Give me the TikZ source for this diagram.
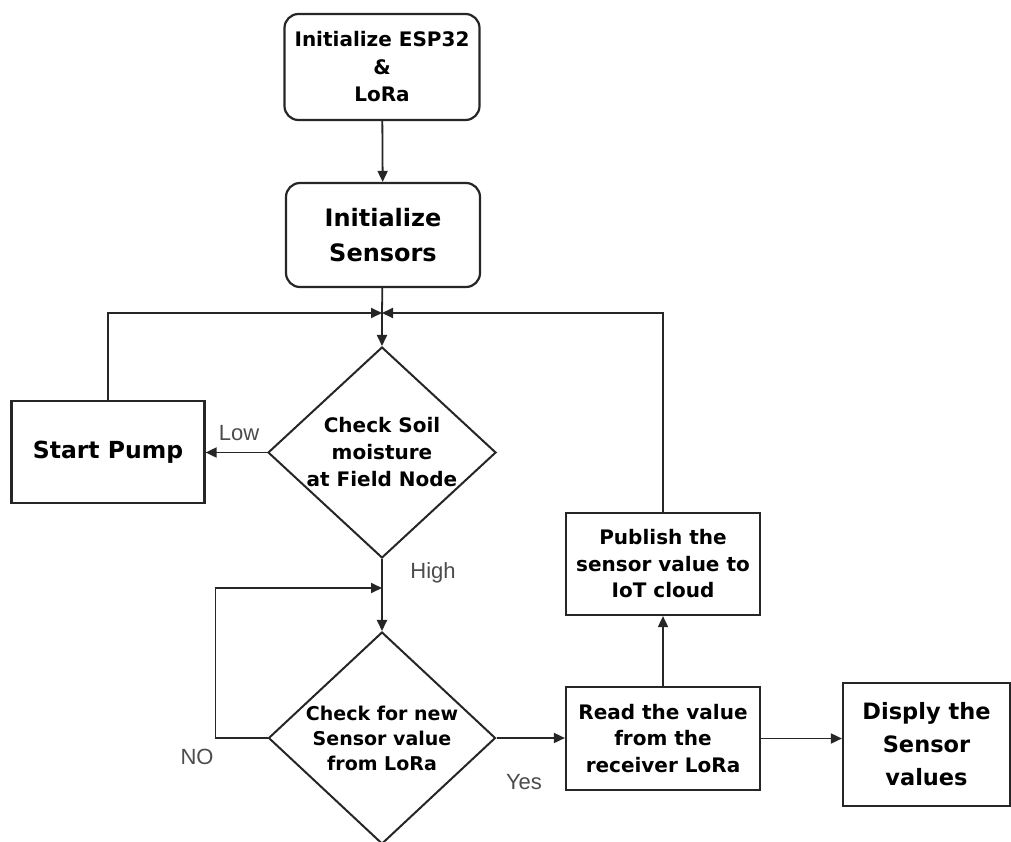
\documentclass[tikz,border=0pt]{standalone}
\usepackage{fontspec}
\setmainfont{DejaVu Sans}
\newfontfamily\lblfont{Liberation Sans}
\usetikzlibrary{arrows.meta}
\usetikzlibrary{shapes.geometric}

\tikzset{
 rbox/.style={draw=black!85, line width=2.2pt, rounded corners=14pt, align=center, inner sep=0pt, font=\bfseries\fontsize{20}{27.5}\selectfont},
 sqbox/.style={draw=black!85, line width=2.2pt, align=center, inner sep=0pt, font=\bfseries\fontsize{20}{26.5}\selectfont},
 decision/.style={draw=black!85, line width=2pt, diamond, shape aspect=1.08, align=center, inner sep=0pt, font=\bfseries\fontsize{20}{27}\selectfont},
 lbl/.style={text=black!70, font=\lblfont\fontsize{22}{24}\selectfont},
 link/.style={draw=black!85, line width=1.8pt},
 flow/.style={link, ->, >={Triangle[length=11pt,width=10pt]}},
}

\begin{document}
\begin{tikzpicture}[x=1pt,y=-1pt]
\useasboundingbox[fill=white] (0,0) rectangle (1011,842);
% boxes
\node[rbox, minimum width=195pt, minimum height=106pt] (esp) at (382,67) {Initialize ESP32\\\&\\LoRa};
\node[rbox, font=\bfseries\fontsize{24}{35}\selectfont, minimum width=194pt, minimum height=104pt] (sens) at (383,235) {Initialize\\Sensors};
\node[sqbox, font=\bfseries\fontsize{23.5}{28}\selectfont, minimum width=193pt, minimum height=102pt] (pump) at (108,452) {Start Pump};
\node[decision, minimum width=228pt, minimum height=211pt] (soil) at (382,452.5) {Check Soil\\moisture\\at Field Node};
\node[decision, font=\bfseries\fontsize{19}{25}\selectfont, minimum width=227pt, minimum height=212pt] (newval) at (382,738) {Check for new\\Sensor value\\from LoRa};
\node[sqbox, minimum width=194pt, minimum height=102pt] (pub) at (663,564) {Publish the\\sensor value to\\IoT cloud};
\node[sqbox, minimum width=194pt, minimum height=103pt] (read) at (663,738.5) {Read the value\\from the\\receiver LoRa};
\node[sqbox, font=\bfseries\fontsize{22.5}{33}\selectfont, minimum width=167pt, minimum height=123pt] (disp) at (926.5,744.5) {Disply the\\Sensor\\values};
% labels
\node[lbl] (low) at (239,433) {Low};
\node[lbl] (high) at (433,573) {High};
\node[lbl] (no) at (197,757) {NO};
\node[lbl] (yes) at (524,782) {Yes};
% connectors
\coordinate (top) at (382,313);
\coordinate (mid) at (382,588);
\draw[flow] (esp) -- (sens);
\draw[link] (sens) -- (top);
\draw[flow] (top) -- (soil);
\draw[flow] (pump) |- (top);
\draw[flow] (pub) |- (top);
\draw[flow] (soil.west) -- (soil.west -| pump.east);
\draw[link] (soil) -- (mid);
\draw[flow] (mid) -- (newval);
\draw[flow] (newval.west) -- ++(-52,0) |- (mid);
\draw[flow] (newval.east) -- (newval.east -| read.west);
\draw[flow] (read) -- (pub);
\draw[flow] (read.east) -- (read.east -| disp.west);
\end{tikzpicture}
\end{document}
